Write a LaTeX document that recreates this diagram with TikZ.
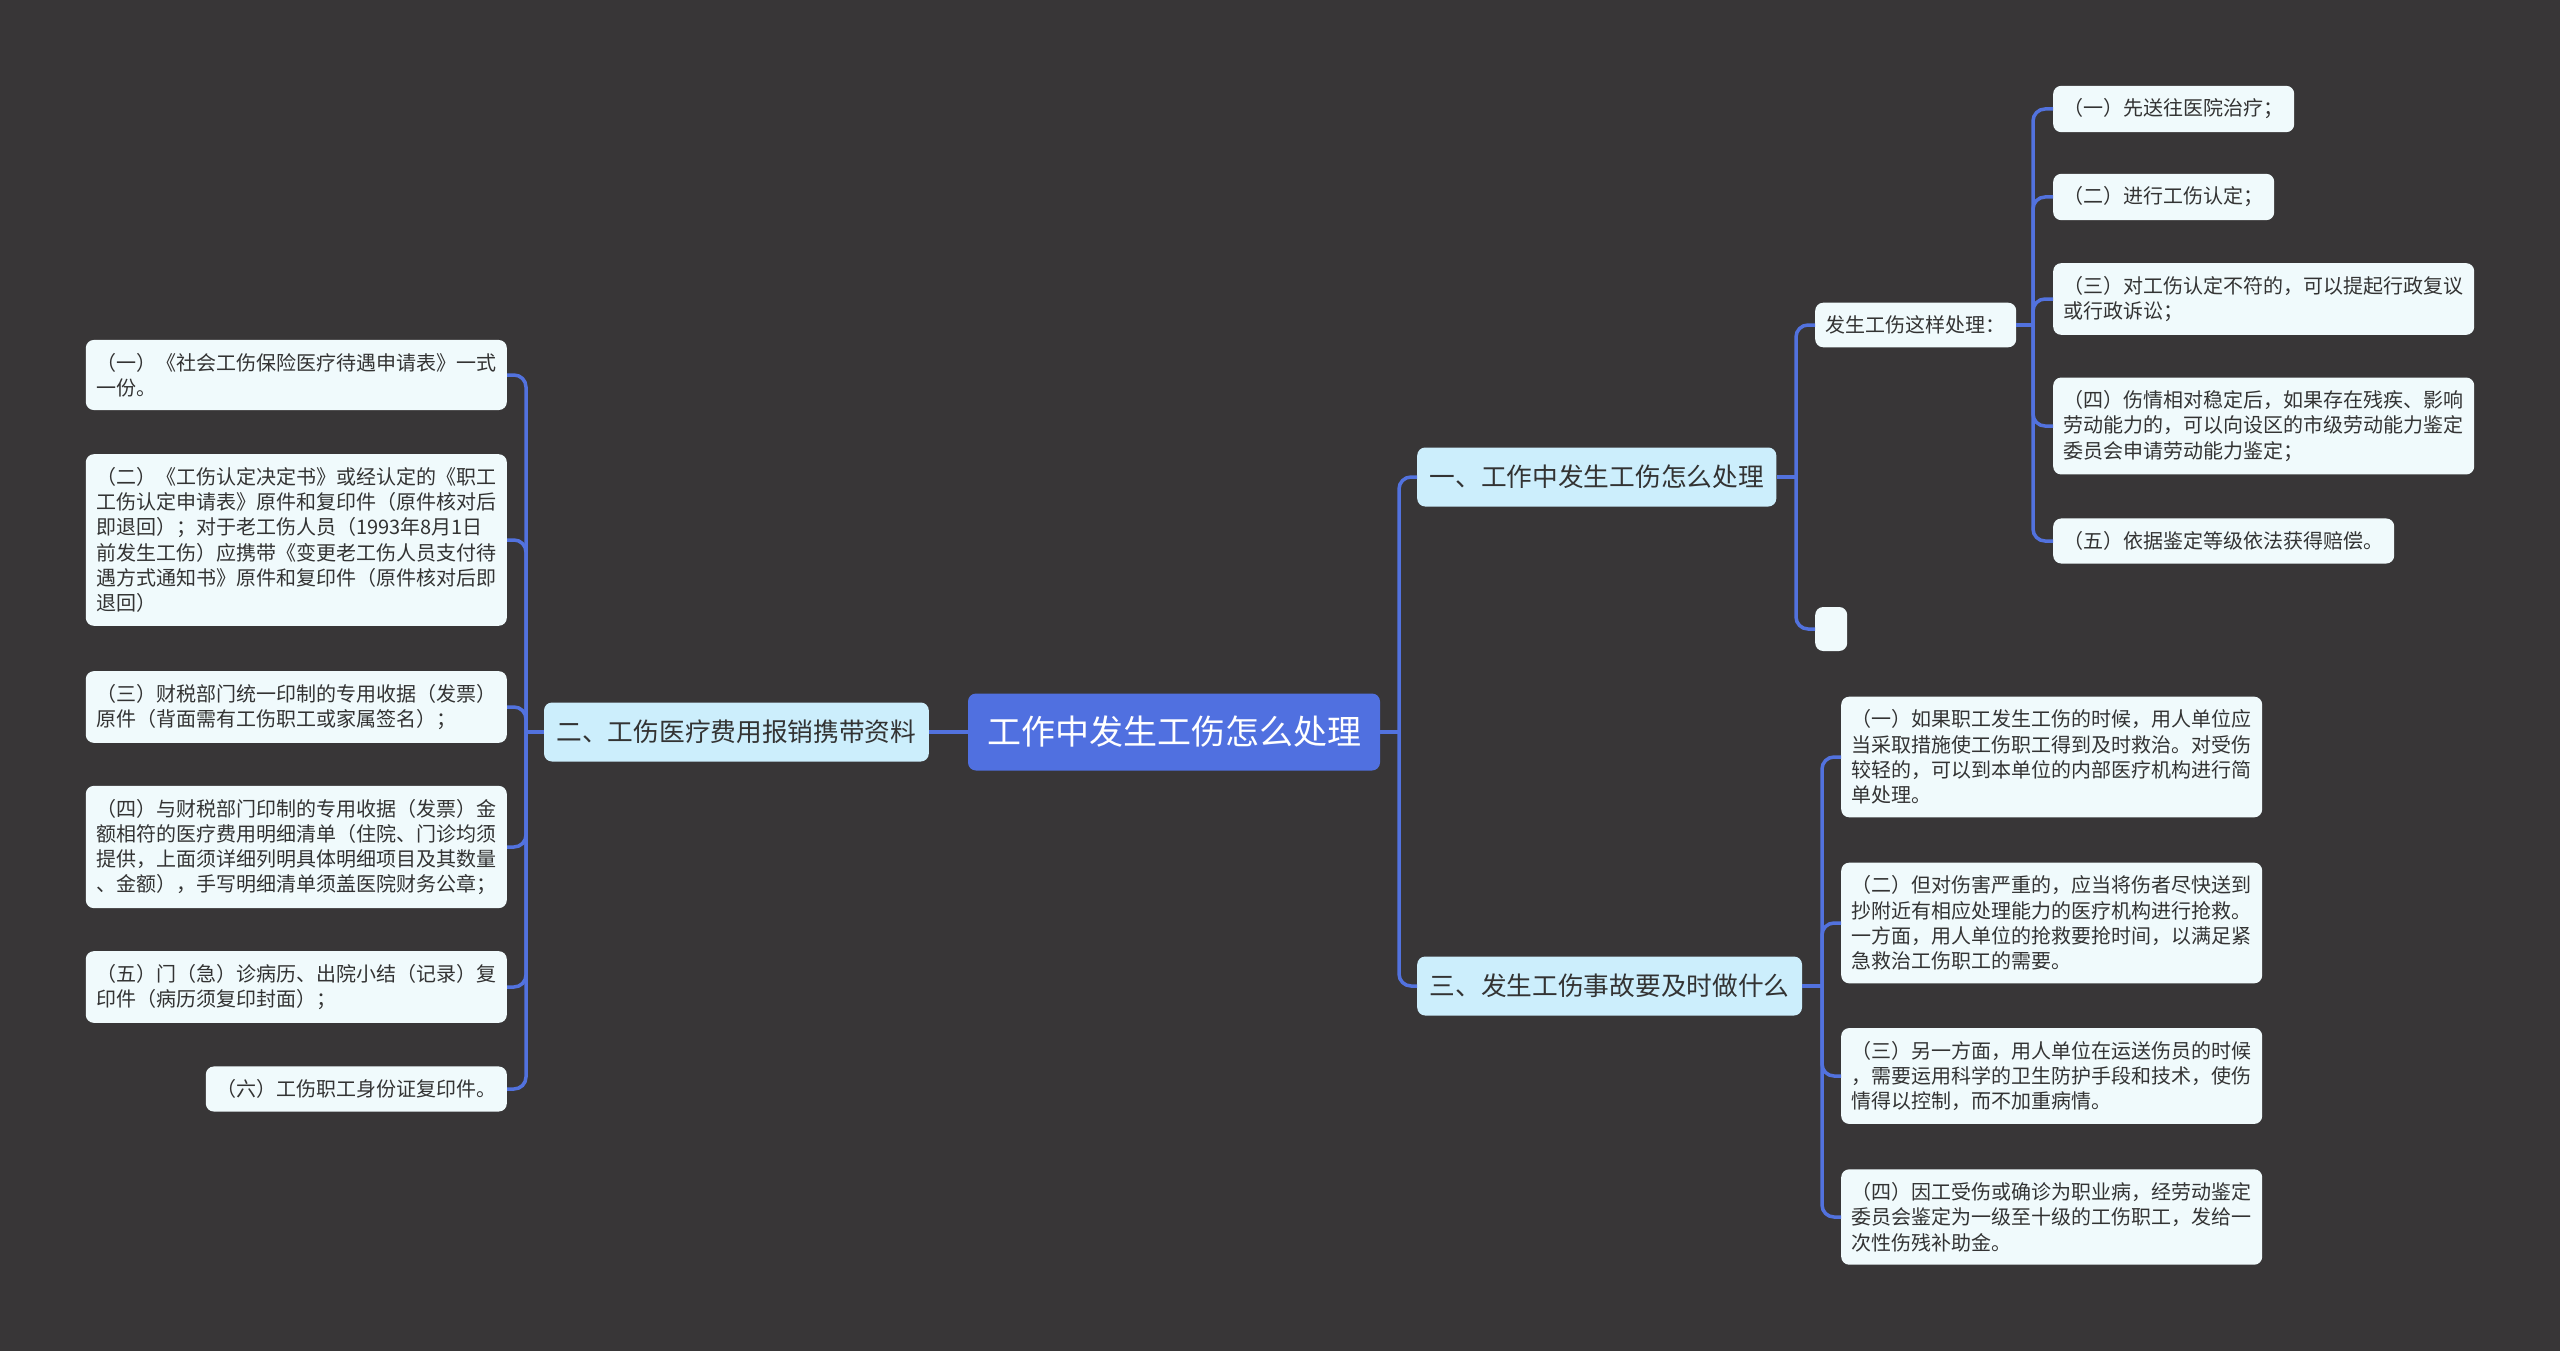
\documentclass[tikz,border=0pt]{standalone}
\usepackage{fontspec}
\setmainfont{Noto Sans CJK SC}
\usepackage{tikz}
\definecolor{MapBack}{HTML}{383637}
\definecolor{MapLine}{HTML}{5272DE}
\definecolor{MapRoot}{HTML}{5070E0}
\definecolor{MapBranch}{HTML}{CCEEFC}
\definecolor{MapLeaf}{HTML}{F0FAFC}
\definecolor{MapText}{HTML}{333333}

\begin{document}
\begin{tikzpicture}[x=1pt,y=-1pt,
    link/.style={MapLine,line width=3.5pt,rounded corners=12pt},
    box/.style={rounded corners=8pt,text=MapText,align=left,inner ysep=13pt,inner xsep=10.5pt},
    leaf/.style={box,fill=MapLeaf,font=\fontsize{20}{25.3}\selectfont},
    branch/.style={box,fill=MapBranch,font=\fontsize{25.7}{30}\selectfont,inner xsep=12.5pt,inner ysep=0pt,minimum height=59pt},
    root/.style={rounded corners=8pt,fill=MapRoot,text=white,font=\fontsize{34}{40}\selectfont,inner xsep=19pt,inner ysep=0pt,minimum height=77pt}]
  \useasboundingbox (0,0) rectangle (2560,1351);
  \fill[MapBack] (0,0) rectangle (2560,1351);

  % centre and main branches
  \node[root] (root) at (1174,732) {工作中发生工伤怎么处理};
  \node[branch,anchor=east] (b2) at (929,732) {二、工伤医疗费用报销携带资料};
  \node[branch,anchor=west] (b1) at (1417,477) {一、工作中发生工伤怎么处理};
  \node[branch,anchor=west] (b3) at (1417,986) {三、发生工伤事故要及时做什么};

  % left side
  \node[leaf,anchor=east] (l1) at (507,375) {（一）《社会工伤保险医疗待遇申请表》一式\\一份。};
  \node[leaf,anchor=east] (l2) at (507,540) {（二）《工伤认定决定书》或经认定的《职工\\工伤认定申请表》原件和复印件（原件核对后\\即退回）；对于老工伤人员（1993年8月1日\\前发生工伤）应携带《变更老工伤人员支付待\\遇方式通知书》原件和复印件（原件核对后即\\退回）};
  \node[leaf,anchor=east] (l3) at (507,707) {（三）财税部门统一印制的专用收据（发票）\\原件（背面需有工伤职工或家属签名）；};
  \node[leaf,anchor=east] (l4) at (507,847) {（四）与财税部门印制的专用收据（发票）金\\额相符的医疗费用明细清单（住院、门诊均须\\提供，上面须详细列明具体明细项目及其数量\\、金额），手写明细清单须盖医院财务公章；};
  \node[leaf,anchor=east] (l5) at (507,987) {（五）门（急）诊病历、出院小结（记录）复\\印件（病历须复印封面）；};
  \node[leaf,anchor=east] (l6) at (507,1089) {（六）工伤职工身份证复印件。};

  % branch one
  \node[leaf,anchor=west] (m1) at (1815,325) {发生工伤这样处理：};
  \node[leaf,anchor=west,inner sep=0pt,minimum width=32pt,minimum height=44pt] (m2) at (1815,629) {};
  \node[leaf,anchor=west] (r1) at (2053,109) {（一）先送往医院治疗；};
  \node[leaf,anchor=west] (r2) at (2053,197) {（二）进行工伤认定；};
  \node[leaf,anchor=west] (r3) at (2053,299) {（三）对工伤认定不符的，可以提起行政复议\\或行政诉讼；};
  \node[leaf,anchor=west] (r4) at (2053,426) {（四）伤情相对稳定后，如果存在残疾、影响\\劳动能力的，可以向设区的市级劳动能力鉴定\\委员会申请劳动能力鉴定；};
  \node[leaf,anchor=west] (r5) at (2053,541) {（五）依据鉴定等级依法获得赔偿。};

  % branch three
  \node[leaf,anchor=west] (s1) at (1841,757) {（一）如果职工发生工伤的时候，用人单位应\\当采取措施使工伤职工得到及时救治。对受伤\\较轻的，可以到本单位的内部医疗机构进行简\\单处理。};
  \node[leaf,anchor=west] (s2) at (1841,923) {（二）但对伤害严重的，应当将伤者尽快送到\\抄附近有相应处理能力的医疗机构进行抢救。\\一方面，用人单位的抢救要抢时间，以满足紧\\急救治工伤职工的需要。};
  \node[leaf,anchor=west] (s3) at (1841,1076) {（三）另一方面，用人单位在运送伤员的时候\\，需要运用科学的卫生防护手段和技术，使伤\\情得以控制，而不加重病情。};
  \node[leaf,anchor=west] (s4) at (1841,1217) {（四）因工受伤或确诊为职业病，经劳动鉴定\\委员会鉴定为一级至十级的工伤职工，发给一\\次性伤残补助金。};

  % connectors
  \coordinate (jl) at (526,732);
  \coordinate (jr) at (1399,732);
  \coordinate (j1) at (1796,477);
  \coordinate (jm) at (2033,325);
  \coordinate (j3) at (1822,986);
  \draw[link] (root.west) -- (b2.east);
  \draw[link] (b2.west) -- (jl);
  \foreach \n in {l1,l2,l3,l4,l5,l6}
    \draw[link] (jl) |- (\n.east);
  \draw[link] (root.east) -- (jr);
  \foreach \n in {b1,b3}
    \draw[link] (jr) |- (\n.west);
  \draw[link] (b1.east) -- (j1);
  \foreach \n in {m1,m2}
    \draw[link] (j1) |- (\n.west);
  \draw[link] (m1.east) -- (jm);
  \foreach \n in {r1,r2,r3,r4,r5}
    \draw[link] (jm) |- (\n.west);
  \draw[link] (b3.east) -- (j3);
  \foreach \n in {s1,s2,s3,s4}
    \draw[link] (j3) |- (\n.west);
\end{tikzpicture}
\end{document}
